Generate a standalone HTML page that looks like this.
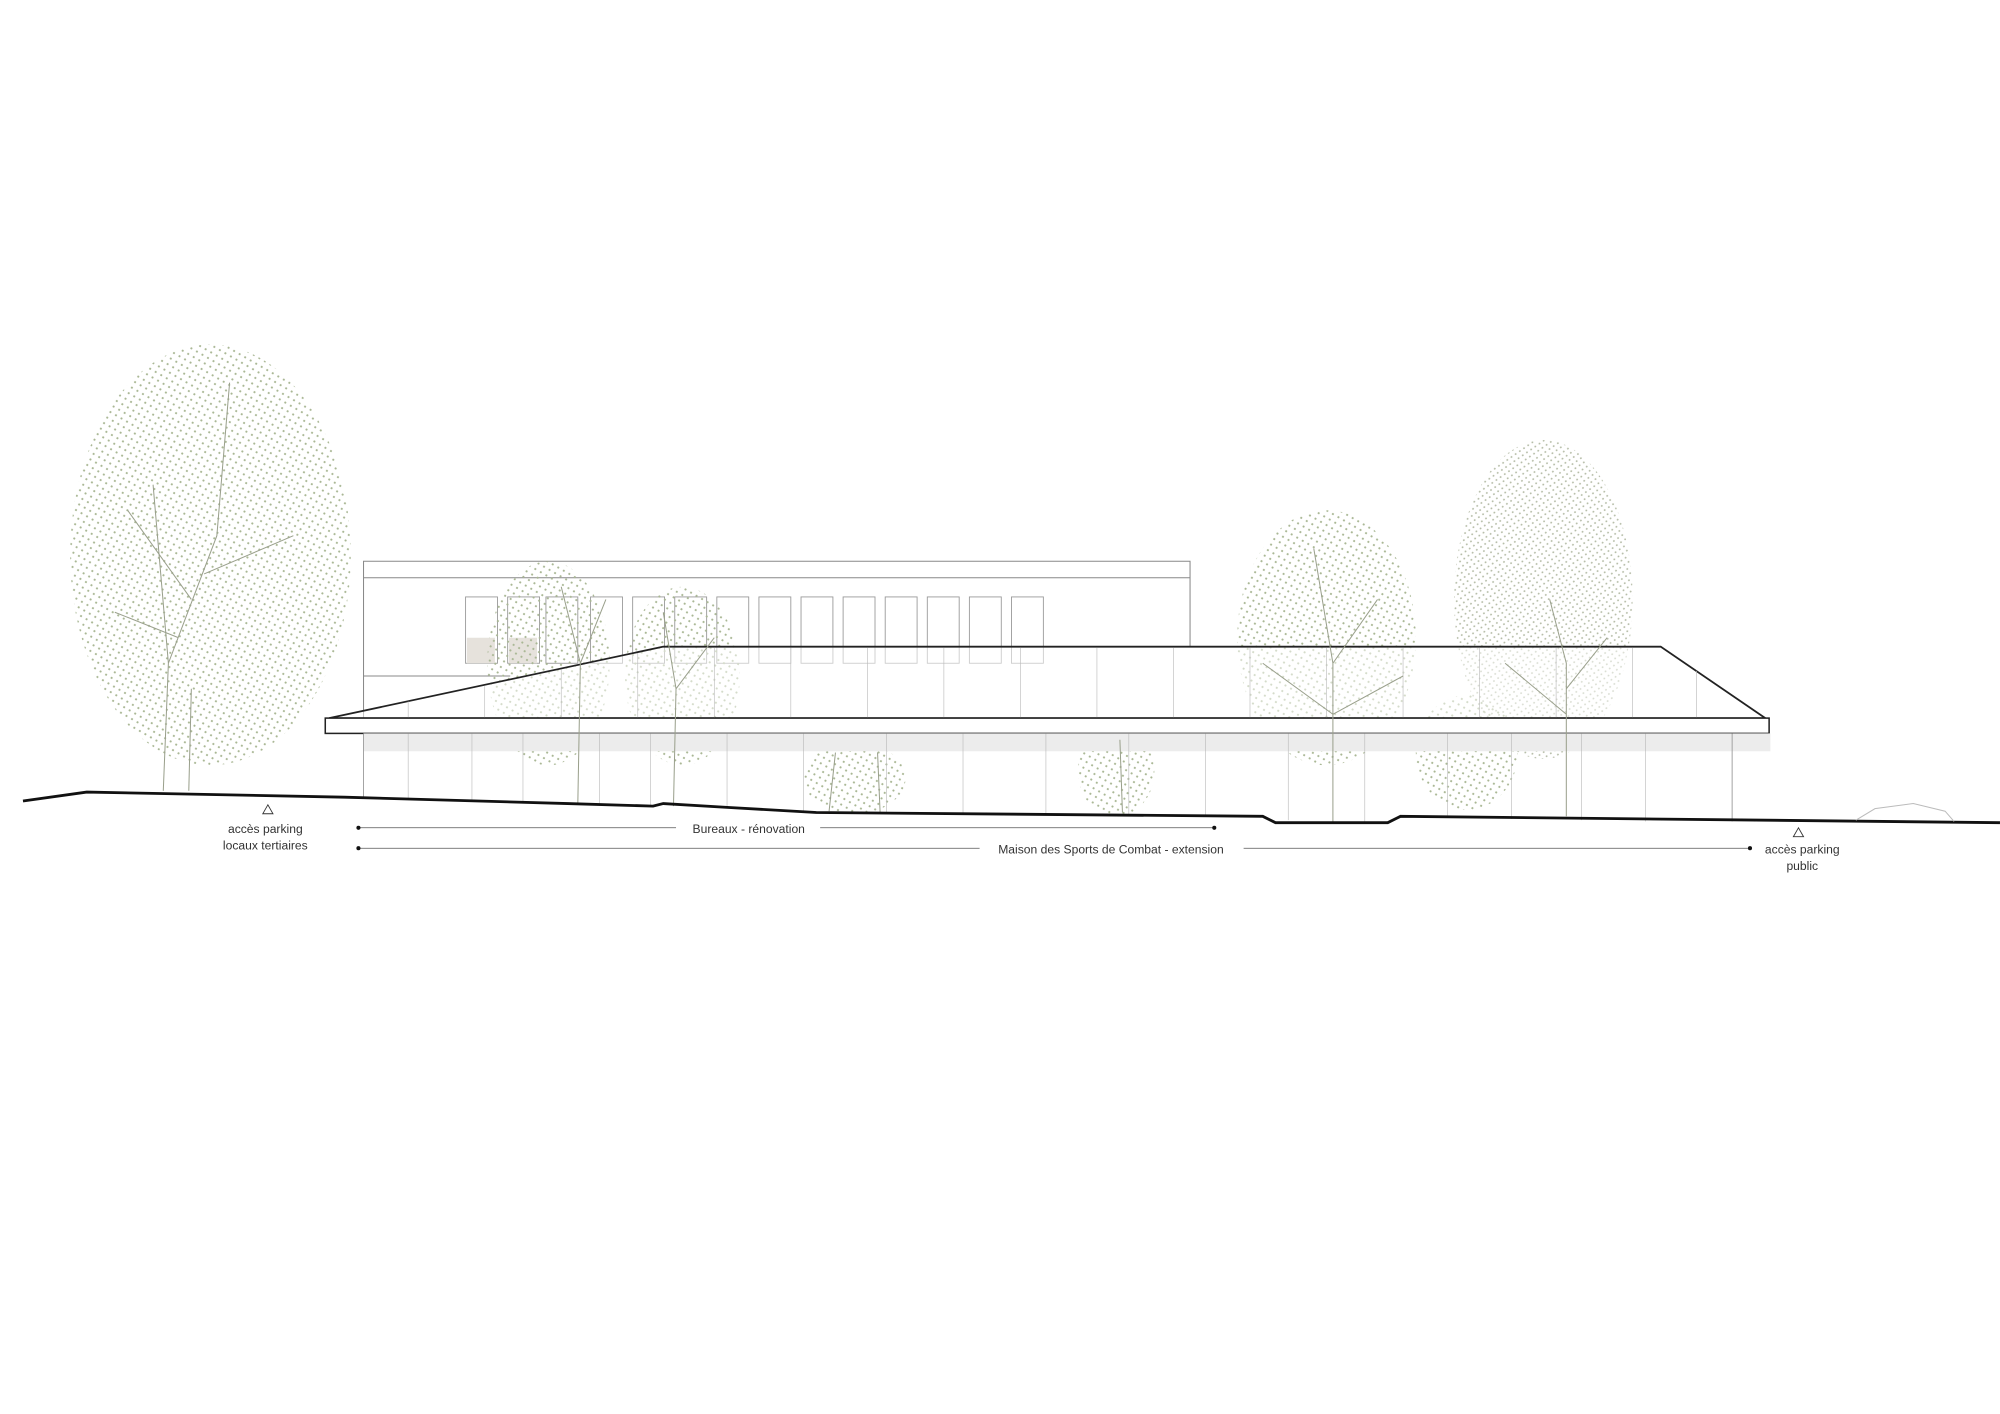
<!DOCTYPE html>
<html><head><meta charset="utf-8"><style>
html,body{margin:0;padding:0;background:#fff;}
svg{display:block}
text{font-family:"Liberation Sans",sans-serif;fill:#333;}
</style></head><body>
<svg width="2000" height="1414" viewBox="0 0 1568 1108.6" xmlns="http://www.w3.org/2000/svg">
<defs>
<pattern id="dots" width="5" height="5" patternUnits="userSpaceOnUse" patternTransform="rotate(30)">
<circle cx="1.5" cy="1.5" r="0.85" fill="#a9b794"/>
</pattern>
<pattern id="dots2" width="4" height="4" patternUnits="userSpaceOnUse" patternTransform="rotate(-35)">
<circle cx="1.2" cy="1.2" r="0.75" fill="#b6bda8"/>
</pattern>
</defs>
<rect width="1568" height="1109" fill="#fff"/>

<!-- old building -->
<g stroke="#888" stroke-width="0.8" fill="none">
<path d="M285 563 L285 440 L933 440 L933 507"/>
<line x1="285" y1="453" x2="933" y2="453"/>
<line x1="285" y1="530" x2="400" y2="530"/>
</g>
<g stroke="#999" stroke-width="0.7" fill="#fff">
<rect x="365" y="468" width="25" height="52"/><rect x="398" y="468" width="25" height="52"/><rect x="428" y="468" width="25" height="52"/>
<rect x="463" y="468" width="25" height="52"/><rect x="496" y="468" width="25" height="52"/><rect x="529" y="468" width="25" height="52"/>
<rect x="562" y="468" width="25" height="52"/><rect x="595" y="468" width="25" height="52"/><rect x="628" y="468" width="25" height="52"/>
<rect x="661" y="468" width="25" height="52"/><rect x="694" y="468" width="25" height="52"/><rect x="727" y="468" width="25" height="52"/>
<rect x="760" y="468" width="25" height="52"/><rect x="793" y="468" width="25" height="52"/>
</g>
<rect x="366" y="500" width="22" height="20" fill="#e6e2dc"/>
<rect x="399" y="500" width="22" height="20" fill="#e6e2dc"/>

<!-- trees behind -->
<g>
<ellipse cx="165" cy="435" rx="110" ry="165" fill="url(#dots)"/>
<ellipse cx="430" cy="520" rx="48" ry="80" fill="url(#dots)"/>
<ellipse cx="535" cy="530" rx="45" ry="70" fill="url(#dots)"/>
<ellipse cx="1040" cy="500" rx="70" ry="100" fill="url(#dots)"/>
<ellipse cx="1210" cy="470" rx="70" ry="125" fill="url(#dots2)"/>
<ellipse cx="1150" cy="590" rx="40" ry="45" fill="url(#dots)"/>
<ellipse cx="875" cy="605" rx="30" ry="35" fill="url(#dots)"/>
<ellipse cx="670" cy="610" rx="40" ry="28" fill="url(#dots)"/>
</g>

<!-- new roof -->
<polygon points="258,563 520,507 1302,507 1384,563" fill="#fff" fill-opacity="0.5" stroke="#222" stroke-width="1.4"/>
<g stroke="#bbb" stroke-width="0.5">
<line x1="560" y1="508" x2="560" y2="563"/><line x1="620" y1="508" x2="620" y2="563"/><line x1="680" y1="508" x2="680" y2="563"/>
<line x1="740" y1="508" x2="740" y2="563"/><line x1="800" y1="508" x2="800" y2="563"/><line x1="860" y1="508" x2="860" y2="563"/>
<line x1="920" y1="508" x2="920" y2="563"/><line x1="980" y1="508" x2="980" y2="563"/><line x1="1040" y1="508" x2="1040" y2="563"/>
<line x1="1100" y1="508" x2="1100" y2="563"/><line x1="1160" y1="508" x2="1160" y2="563"/><line x1="1220" y1="508" x2="1220" y2="563"/>
<line x1="1280" y1="508" x2="1280" y2="563"/><line x1="500" y1="512" x2="500" y2="563"/><line x1="440" y1="525" x2="440" y2="563"/>
<line x1="380" y1="538" x2="380" y2="563"/><line x1="320" y1="550" x2="320" y2="563"/><line x1="1330" y1="526" x2="1330" y2="563"/>
</g>
<rect x="255" y="563" width="1132" height="12" fill="#fff" stroke="#222" stroke-width="1.2"/>
<rect x="285" y="575" width="1103" height="14" fill="#ececec"/>
<g stroke="#999" stroke-width="0.7">
<line x1="285" y1="575" x2="285" y2="626"/><line x1="1358" y1="575" x2="1358" y2="644"/>
</g>
<g stroke="#bbb" stroke-width="0.5">
<line x1="320" y1="575" x2="320" y2="627"/><line x1="370" y1="575" x2="370" y2="628"/><line x1="410" y1="575" x2="410" y2="629"/>
<line x1="470" y1="575" x2="470" y2="631"/><line x1="510" y1="575" x2="510" y2="632"/><line x1="570" y1="575" x2="570" y2="634"/>
<line x1="630" y1="575" x2="630" y2="637"/><line x1="695" y1="575" x2="695" y2="638"/><line x1="755" y1="575" x2="755" y2="638"/>
<line x1="820" y1="575" x2="820" y2="639"/><line x1="885" y1="575" x2="885" y2="639"/><line x1="945" y1="575" x2="945" y2="640"/>
<line x1="1010" y1="575" x2="1010" y2="643"/><line x1="1070" y1="575" x2="1070" y2="645"/><line x1="1135" y1="575" x2="1135" y2="641"/>
<line x1="1185" y1="575" x2="1185" y2="642"/><line x1="1240" y1="575" x2="1240" y2="643"/><line x1="1290" y1="575" x2="1290" y2="644"/>
</g>

<!-- tree trunks / branches -->
<g stroke="#9aa08c" stroke-width="0.8" fill="none">
<path d="M128 620 L132 520 L120 380 M132 520 L170 420 L180 300 M150 470 L100 400 M160 450 L230 420 M140 500 L90 480"/>
<path d="M148 620 L150 540"/>
<path d="M453 630 L455 520 L440 460 M455 520 L475 470"/>
<path d="M528 632 L530 540 L520 480 M530 540 L560 500"/>
<path d="M1045 645 L1045 520 L1030 430 M1045 520 L1080 470 M1045 560 L990 520 M1045 560 L1100 530"/>
<path d="M1228 640 L1228 520 L1215 470 M1228 540 L1260 500 M1228 560 L1180 520"/>
<path d="M880 637 L878 580 M650 636 L655 590 M690 637 L688 590"/>
</g>

<!-- ground -->
<path d="M18 628 L68 621 L270 625 L445 630 L512 632 L520 630 L570 633 L640 637 L990 640 L1000 645 L1088 645 L1098 640 L1568 645" fill="none" stroke="#111" stroke-width="2.2"/>
<path d="M1455 643 L1470 634 L1500 630 L1525 636 L1532 644" fill="none" stroke="#bbb" stroke-width="0.8"/>

<!-- labels -->
<polygon points="210,631 206,638 214,638" fill="none" stroke="#333" stroke-width="0.7"/>
<text x="208" y="653" font-size="9.5" text-anchor="middle">accès parking</text>
<text x="208" y="666" font-size="9.5" text-anchor="middle">locaux tertiaires</text>
<g stroke="#555" stroke-width="0.6">
<line x1="281" y1="649" x2="530" y2="649"/><line x1="643" y1="649" x2="952" y2="649"/>
<line x1="281" y1="665" x2="768" y2="665"/><line x1="975" y1="665" x2="1372" y2="665"/>
</g>
<circle cx="281" cy="649" r="1.6" fill="#111"/><circle cx="952" cy="649" r="1.6" fill="#111"/>
<circle cx="281" cy="665" r="1.6" fill="#111"/><circle cx="1372" cy="665" r="1.6" fill="#111"/>
<text x="587" y="653" font-size="9.5" text-anchor="middle">Bureaux - rénovation</text>
<text x="871" y="669" font-size="9.5" text-anchor="middle">Maison des Sports de Combat - extension</text>
<polygon points="1410,649 1406,656 1414,656" fill="none" stroke="#333" stroke-width="0.7"/>
<text x="1413" y="669" font-size="9.5" text-anchor="middle">accès parking</text>
<text x="1413" y="682" font-size="9.5" text-anchor="middle">public</text>
</svg>
</body></html>
